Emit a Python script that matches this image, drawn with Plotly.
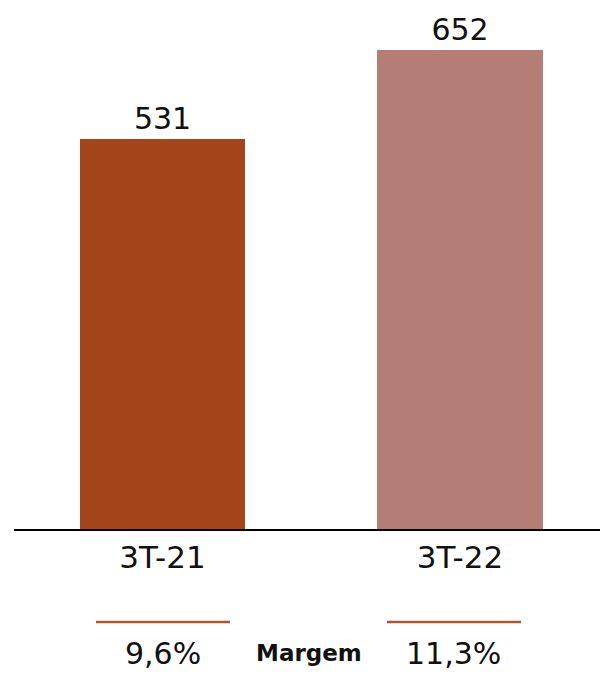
import plotly.graph_objects as go

categories = ["3T-21", "3T-22"]
values = [531, 652]
bar_colors = ["#A4441A", "#B47D76"]
margins = ["9,6%", "11,3%"]
margin_label = "Margem"

FONT = "DejaVu Sans"

fig = go.Figure()
fig.add_trace(go.Bar(
    x=[0, 1], y=values,
    marker=dict(color=bar_colors, line=dict(width=0)),
    width=0.555,
    text=[str(v) for v in values],
    textposition="outside",
    textfont=dict(family=FONT, size=30, color="#111111"),
    cliponaxis=False,
    hoverinfo="skip",
))

W, H = 600, 678
ml, mr, mt, mb = 14, 0, 0, 149
pw = W - ml - mr
ph = H - mt - mb

def px_x(p):
    return (p - ml) / pw

def px_y(p):
    return (H - mb - p) / ph

# margin lines and texts
line_spans = [(96, 230), (387, 521)]
text_centers = [163, 453]
for (x0, x1) in line_spans:
    fig.add_shape(type="line", xref="paper", yref="paper",
                  x0=px_x(x0), x1=px_x(x1), y0=px_y(622), y1=px_y(622),
                  line=dict(color="#B5532A", width=2.5))
for cx, t in zip(text_centers, margins):
    fig.add_annotation(xref="paper", yref="paper", x=px_x(cx), y=px_y(653),
                       text=t, showarrow=False, xanchor="center", yanchor="middle",
                       font=dict(family=FONT, size=30, color="#111111"))
fig.add_annotation(xref="paper", yref="paper", x=px_x(309), y=px_y(653),
                   text="<b>" + margin_label + "</b>", showarrow=False,
                   xanchor="center", yanchor="middle",
                   font=dict(family=FONT, size=23, color="#111111"))

# category range so centers land at 162.5 and 460
unit = 297.5
c0 = 162.5
fig.update_xaxes(
    range=[(ml - c0) / unit, (W - mr - c0) / unit],
    tickmode="array", tickvals=[0, 1], ticktext=categories,
    showline=True, linecolor="#000000", linewidth=2,
    showgrid=False, zeroline=False, ticks="",
    tickfont=dict(family=FONT, size=31, color="#111111"),
    fixedrange=True,
)
fig.update_yaxes(range=[0, 720.5], visible=False, showgrid=False, zeroline=False,
                 fixedrange=True)

fig.update_layout(
    width=W, height=H,
    margin=dict(l=ml, r=mr, t=mt, b=mb, pad=0),
    paper_bgcolor="white", plot_bgcolor="white",
    showlegend=False,
    font=dict(family=FONT),
    bargap=0,
)

fig.write_html("out.html", config={"displayModeBar": False},
               post_script="document.body.style.margin='0';document.body.style.overflow='hidden';")
